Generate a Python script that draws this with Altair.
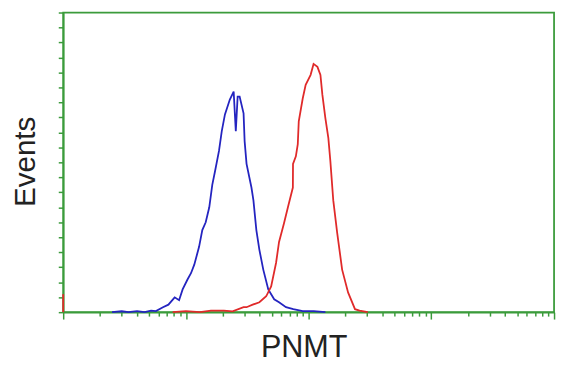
import altair as alt
import pandas as pd

# Blue histogram (isotype control)
blue_x = [2.5, 3.0, 3.4, 4.0, 4.6, 5.2, 5.7, 6.5, 7.2, 8.1, 8.8, 9.4, 10.3, 11.0, 11.7,
          12.8, 13.6, 14.5, 15.5, 16.4, 17.3, 18.6, 19.6, 20.8, 22.8, 24.5, 25.5, 26.4,
          27.4, 29.5, 30.1, 31.2, 34.2, 35.5, 37.5, 39.7, 42.7, 46.9, 52.4, 57.4, 65.4,
          75, 89.5, 110, 137]
blue_y = [0, 0.6, 0, 0.7, 0, 1, 0.7, 3.3, 5, 9.9, 8, 15.2, 21.8, 26, 31.7,
          43.6, 54.8, 60, 70, 85, 94.4, 107.6, 120.8, 132, 141.9, 147.2, 120.8, 143.9,
          143.9, 132.7, 114, 99, 83.2, 74.6, 54.8, 41.6, 28.4, 15.2, 8.6, 6.6, 3.3,
          2, 0.7, 0.7, 0]

# Red histogram (PNMT transfected)
red_x = [7.8, 10, 13, 16, 20.4, 24, 29.5, 31.2, 35, 39.7, 45.1, 49.5, 54.3, 57.4, 63.0,
         67.8, 74.4, 74.6, 78.7, 81.6, 83.1, 89.5, 94.6, 103.8, 109.7, 118, 124.8,
         129.4, 137, 144.8, 150.3, 158.8, 171, 187.5, 209.6, 238.7, 260, 303.5]
red_y = [0, 0.7, 0, 1, 1, 0.5, 3.3, 3.3, 5, 6.6, 10.6, 17.2, 33, 46.9, 59.4,
         70, 83.2, 99, 104, 112.2, 127.4, 142.6, 151.8, 158.4, 165.7, 163.7, 158.4,
         145.2, 129.4, 116.2, 101, 74.6, 52.8, 28.4, 13.2, 2, 1, 0]

# First-bin spike of the red series at the axis minimum
spike_x = [1, 1]
spike_y = [0, 12]

x_ticks = [m * 10 ** d for d in range(4) for m in range(1, 10)] + [10000]
y_ticks = list(range(0, 201, 10))

GREEN = "#3b9b3b"

rows = []
for xv, yv in zip(blue_x, blue_y):
    rows.append({"x": xv, "y": yv, "series": "blue", "seg": "b"})
for xv, yv in zip(red_x, red_y):
    rows.append({"x": xv, "y": yv, "series": "red", "seg": "r"})
for xv, yv in zip(spike_x, spike_y):
    rows.append({"x": xv, "y": yv, "series": "red", "seg": "s"})
df = pd.DataFrame(rows)
df["i"] = range(len(df))

chart = alt.Chart(df).mark_line(strokeWidth=1.8, clip=False).encode(
    x=alt.X("x:Q",
            scale=alt.Scale(type="log", domain=[1, 10000], nice=False),
            axis=alt.Axis(values=x_ticks, labels=False, grid=False,
                          domainColor=GREEN, domainWidth=1.8,
                          tickColor=GREEN, tickWidth=1.5,
                          tickSize={"condition": {"test": "indexof([1,10,100,1000,10000], datum.value) >= 0", "value": 7}, "value": 4},
                          title="PNMT", titleFont="Liberation Sans", titleFontSize=31,
                          titleFontWeight="normal", titleColor="#222222",
                          titleX=244, titleY=45, titleAlign="center",
                          titleBaseline="alphabetic")),
    y=alt.Y("y:Q",
            scale=alt.Scale(domain=[0, 200], nice=False),
            axis=alt.Axis(values=y_ticks, labels=False, grid=False,
                          domainColor=GREEN, domainWidth=1.8,
                          tickColor=GREEN, tickWidth=1.5, tickSize=5,
                          title="Events", titleFont="Liberation Sans", titleFontSize=30,
                          titleFontWeight="normal", titleColor="#222222",
                          titleAngle=270, titleX=-29, titleY=151,
                          titleAlign="center", titleBaseline="alphabetic")),
    color=alt.Color("series:N", scale=alt.Scale(domain=["blue", "red"],
                                                range=["#2424c0", "#e02a2a"]),
                    legend=None),
    detail="seg:N",
    order="i:Q",
).properties(
    width=498, height=304,
    autosize=alt.AutoSizeParams(type="none"),
    padding={"left": 56, "top": 2, "right": 4, "bottom": 50},
).configure_view(stroke=GREEN, strokeWidth=1.8)

chart.save("out.html", embed_options={"renderer": "svg", "actions": False})
